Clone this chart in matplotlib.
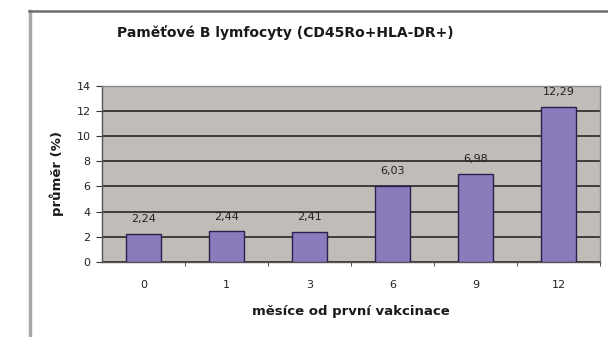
import matplotlib
matplotlib.use("Agg")
import matplotlib.pyplot as plt
from matplotlib.lines import Line2D

categories = ["0", "1", "3", "6", "9", "12"]
values = [2.24, 2.44, 2.41, 6.03, 6.98, 12.29]
value_labels = ["2,24", "2,44", "2,41", "6,03", "6,98", "12,29"]
yticks = [0, 2, 4, 6, 8, 10, 12, 14]

W, H = 608, 337
plt.rcParams['font.family'] = ['DejaVu Sans']
fig = plt.figure(figsize=(W / 100, H / 100), dpi=100)

# outer frame (left and top edges)
fig.add_artist(Line2D([30 / W, 30 / W], [0, 1 - 11 / H], transform=fig.transFigure,
                      color="#a8a8a8", lw=2.5))
fig.add_artist(Line2D([29 / W, 1], [1 - 11 / H, 1 - 11 / H], transform=fig.transFigure,
                      color="#6e6e6e", lw=1.8))

left, right, top, bottom = 102, 600, 85.5, 262
ax = fig.add_axes([left / W, 1 - bottom / H, (right - left) / W, (bottom - top) / H])
ax.set_facecolor("#c0bcb8")

x = list(range(len(categories)))
ax.bar(x, values, width=0.42, color="#8a7cbc", edgecolor="#2a2050", linewidth=1.0, zorder=3)
ax.set_xlim(-0.5, len(categories) - 0.5)
ax.set_ylim(0, 14)
ax.set_yticks(yticks)
ax.set_yticklabels([str(t) for t in yticks], fontsize=8, color="#222222")
ax.yaxis.grid(True, color="#1a1a1a", lw=1.1, zorder=1)
ax.set_axisbelow(True)

ax.set_xticks(x)
ax.set_xticklabels(categories, fontsize=8, color="#222222")
ax.tick_params(axis="x", which="major", length=0, pad=13)
ax.set_xticks([i + 0.5 for i in range(len(categories))], minor=True)
ax.tick_params(axis="x", which="minor", length=3, direction="out", color="#333333")
ax.tick_params(axis="y", length=4.3, direction="out", color="#333333", pad=4)

for s in ["top", "right"]:
    ax.spines[s].set_color("#8a8a8a")
    ax.spines[s].set_linewidth(1.0)
for s in ["left", "bottom"]:
    ax.spines[s].set_color("#555555")
    ax.spines[s].set_linewidth(1.0)

for xi, v, lab in zip(x, values, value_labels):
    ax.annotate(lab, (xi, v), xytext=(0, 7), textcoords="offset points",
                ha="center", va="bottom", fontsize=8, color="#222222")

fig.text(285 / W, 1 - 33 / H, "Paměťové B lymfocyty (CD45Ro+HLA-DR+)",
         ha="center", va="center", fontsize=10, fontweight="bold", color="#1a1a1a")
fig.text(351 / W, 1 - 312 / H, "měsíce od první vakcinace",
         ha="center", va="center", fontsize=9.5, fontweight="bold", color="#1a1a1a")
fig.text(57 / W, 1 - 173 / H, "průměr (%)", rotation=90,
         ha="center", va="center", fontsize=9.5, fontweight="bold", color="#1a1a1a")

fig.savefig("out.png", dpi=100)
